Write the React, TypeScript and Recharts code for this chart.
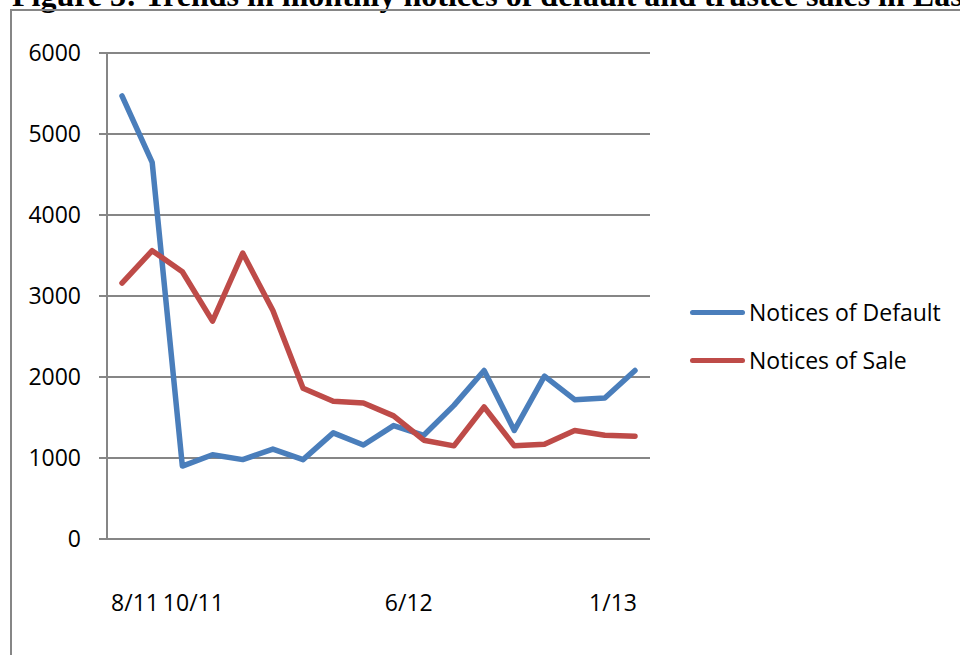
import { CartesianGrid, Legend, Line, LineChart, XAxis, YAxis } from "recharts";

// Monthly counts, Aug 2011 – Jan 2013
const months = [
  "8/11", "9/11", "10/11", "11/11", "12/11",
  "1/12", "2/12", "3/12", "4/12", "5/12", "6/12", "7/12",
  "8/12", "9/12", "10/12", "11/12", "12/12", "1/13",
];

const noticesOfDefault = [
  5470, 4650, 900, 1040, 980, 1110, 980, 1310, 1160,
  1400, 1280, 1650, 2080, 1340, 2010, 1720, 1740, 2080,
];

const noticesOfSale = [
  3160, 3560, 3300, 2690, 3530, 2820, 1860, 1700, 1680,
  1520, 1220, 1150, 1630, 1150, 1170, 1340, 1280, 1270,
];

const labelledMonths = ["8/11", "10/11", "6/12", "1/13"];
const yTicks = [0, 1000, 2000, 3000, 4000, 5000, 6000];

const data = months.map((month, i) => ({
  month,
  defaults: noticesOfDefault[i],
  sales: noticesOfSale[i],
}));

const AXIS_GRAY = "#868686";
const BLUE = "#4a7ebb";
const RED = "#be4b48";
const FONT = "'Open Sans', sans-serif";

// the month labels sit a little off their points
const labelShift: Record<string, number> = {
  "8/11": 13,
  "10/11": 11,
  "6/12": -15,
  "1/13": -22,
};

function MonthTick(props: any) {
  const { x, y, payload } = props;
  const label = payload.value as string;
  if (!labelledMonths.includes(label)) return null;
  return (
    <text
      x={x + (labelShift[label] ?? 0)}
      y={y}
      dy="0.71em"
      textAnchor="middle"
      fill="#000"
      fontSize={23}
      fontFamily={FONT}
    >
      {label}
    </text>
  );
}

function LegendBox() {
  const items = [
    { name: "Notices of Default", color: BLUE },
    { name: "Notices of Sale", color: RED },
  ];
  return (
    <div>
      {items.map((item) => (
        <div
          key={item.name}
          style={{ display: "flex", alignItems: "center", height: 48 }}
        >
          <span
            style={{
              display: "inline-block",
              width: 55,
              height: 5,
              borderRadius: 3,
              background: item.color,
            }}
          />
          <span
            style={{
              marginLeft: 4,
              fontFamily: FONT,
              fontSize: 23,
              color: "#000",
              whiteSpace: "nowrap",
            }}
          >
            {item.name}
          </span>
        </div>
      ))}
    </div>
  );
}

export default function App() {
  return (
    <div
      style={{
        position: "absolute",
        left: 0,
        top: 0,
        width: 960,
        height: 655,
        overflow: "hidden",
        background: "#fff",
      }}
    >
      <div
        style={{
          position: "absolute",
          left: 12,
          top: -21,
          fontFamily: "'Liberation Serif', 'Times New Roman', serif",
          fontWeight: "bold",
          fontSize: 32,
          lineHeight: 1,
          whiteSpace: "nowrap",
          color: "#000",
        }}
      >
        Figure 3: Trends in monthly notices of default and trustee sales in East
      </div>

      <div
        style={{
          position: "absolute",
          left: 10,
          top: 9,
          width: 980,
          height: 680,
          border: `2px solid ${AXIS_GRAY}`,
        }}
      />

      <div style={{ position: "absolute", left: 0, top: 0 }}>
        <LineChart
          width={960}
          height={655}
          data={data}
          margin={{ top: 53, right: 310, bottom: 56, left: 0 }}
        >
          <CartesianGrid
            vertical={false}
            stroke={AXIS_GRAY}
            strokeWidth={2}
          />
          <XAxis
            dataKey="month"
            interval={0}
            height={60}
            padding={{ left: 15, right: 15 }}
            axisLine={{ stroke: AXIS_GRAY, strokeWidth: 2 }}
            tickLine={false}
            tickSize={0}
            tickMargin={56}
            tick={<MonthTick />}
          />
          <YAxis
            width={107}
            domain={[0, 6000]}
            ticks={yTicks}
            interval={0}
            axisLine={{ stroke: AXIS_GRAY, strokeWidth: 2 }}
            tickLine={{ stroke: AXIS_GRAY, strokeWidth: 2 }}
            tickSize={8}
            tickMargin={18}
            tick={{ fill: "#000", fontSize: 23, fontFamily: FONT }}
          />
          <Legend
            layout="vertical"
            align="center"
            verticalAlign="middle"
            content={<LegendBox />}
            wrapperStyle={{ left: 690, top: 288, width: 270 }}
          />
          <Line
            type="linear"
            dataKey="defaults"
            name="Notices of Default"
            stroke={BLUE}
            strokeWidth={5.5}
            strokeLinecap="round"
            strokeLinejoin="round"
            dot={false}
            isAnimationActive={false}
          />
          <Line
            type="linear"
            dataKey="sales"
            name="Notices of Sale"
            stroke={RED}
            strokeWidth={5.5}
            strokeLinecap="round"
            strokeLinejoin="round"
            dot={false}
            isAnimationActive={false}
          />
        </LineChart>
      </div>
    </div>
  );
}
